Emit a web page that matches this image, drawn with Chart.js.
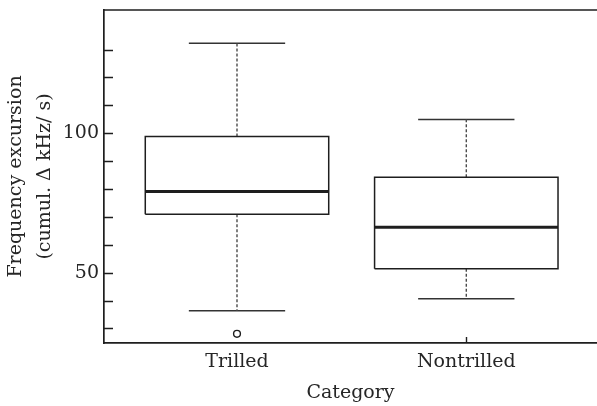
<!DOCTYPE html>
<html>
<head>
<meta charset="utf-8">
<script src="https://cdn.jsdelivr.net/npm/chart.js@4.4.1/dist/chart.umd.min.js"></script>
<style>
  html, body { margin: 0; padding: 0; background: #fff; }
  #wrap { width: 597px; height: 406px; }
</style>
</head>
<body>
<div id="wrap"><canvas id="chart"></canvas></div>
<script>
// --- data ---
const categories = ['Trilled', 'Nontrilled'];
const whiskerLow = [36.4, 40.7];
const q1 = [71.0, 51.4];
const median = [79.1, 66.3];
const q3 = [98.8, 84.2];
const whiskerHigh = [132.3, 104.9];
const outliers = [[28.1], []];
const yTickValues = [30, 40, 50, 60, 70, 80, 90, 100, 110, 120, 130];
const yLabelValues = [50, 100];
const xTickMarks = [2];

// --- look ---
const INK = '#1e1e1e';
const TEXT = '#262626';
const BOX_HALF = 0.4;
const CAP_HALF = 0.21;
const FONT = "'DejaVu Serif', serif";

const seg = (points, style) => Object.assign({
    data: points,
    showLine: true,
    fill: false,
    pointRadius: 0,
    borderColor: INK,
    borderWidth: 1.5
}, style);

const datasets = [];
categories.forEach((name, i) => {
    const c = i + 1;
    // box
    datasets.push(seg([
        { x: c - BOX_HALF, y: q1[i] }, { x: c + BOX_HALF, y: q1[i] },
        { x: c + BOX_HALF, y: q3[i] }, { x: c - BOX_HALF, y: q3[i] },
        { x: c - BOX_HALF, y: q1[i] }
    ], { borderJoinStyle: 'miter' }));
    // median
    datasets.push(seg([{ x: c - BOX_HALF, y: median[i] }, { x: c + BOX_HALF, y: median[i] }], { borderWidth: 3 }));
    // whiskers
    datasets.push(seg([{ x: c, y: q3[i] }, { x: c, y: whiskerHigh[i] }], { borderDash: [3, 2], borderColor: '#4a4a4a', borderWidth: 1.4 }));
    datasets.push(seg([{ x: c, y: q1[i] }, { x: c, y: whiskerLow[i] }], { borderDash: [3, 2], borderColor: '#4a4a4a', borderWidth: 1.4 }));
    // caps
    datasets.push(seg([{ x: c - CAP_HALF, y: whiskerHigh[i] }, { x: c + CAP_HALF, y: whiskerHigh[i] }], { borderColor: '#333' }));
    datasets.push(seg([{ x: c - CAP_HALF, y: whiskerLow[i] }, { x: c + CAP_HALF, y: whiskerLow[i] }], { borderColor: '#333' }));
    // outliers
    if (outliers[i].length) {
        datasets.push({
            data: outliers[i].map(v => ({ x: c, y: v })),
            showLine: false,
            pointRadius: 3.4,
            pointBorderWidth: 1.4,
            pointBorderColor: INK,
            pointBackgroundColor: '#fff'
        });
    }
});

// inward tick marks and the top frame line
const framePlugin = {
    id: 'frame',
    afterDraw(chart) {
        const { ctx, chartArea, scales } = chart;
        ctx.save();
        ctx.strokeStyle = INK;
        ctx.lineWidth = 1.4;
        ctx.beginPath();
        yTickValues.forEach(v => {
            const y = Math.round(scales.y.getPixelForValue(v)) + 0.5;
            ctx.moveTo(chartArea.left, y);
            ctx.lineTo(chartArea.left + 9, y);
        });
        xTickMarks.forEach(v => {
            const x = Math.round(scales.x.getPixelForValue(v)) + 0.5;
            ctx.moveTo(x, chartArea.bottom);
            ctx.lineTo(x, chartArea.bottom - 6);
        });
        ctx.stroke();
        ctx.lineWidth = 1.7;
        ctx.beginPath();
        ctx.moveTo(chartArea.left, chartArea.top);
        ctx.lineTo(chart.width, chartArea.top);
        ctx.stroke();
        ctx.restore();
    }
};

new Chart(document.getElementById('chart'), {
    type: 'scatter',
    data: { datasets },
    options: {
        responsive: true,
        maintainAspectRatio: false,
        animation: false,
        layout: { autoPadding: false, padding: { top: 10, right: 0, left: 0, bottom: 0 } },
        plugins: {
            legend: { display: false },
            tooltip: { enabled: false }
        },
        scales: {
            x: {
                type: 'linear',
                min: 0.42,
                max: 2.57,
                afterBuildTicks: (scale) => { scale.ticks = categories.map((n, i) => ({ value: i + 1 })); },
                afterFit: (scale) => {
                    scale.height = 63;
                    scale.paddingLeft = 0;
                    scale.paddingRight = 0;
                },
                grid: { display: false, drawTicks: false },
                border: { display: true, color: INK, width: 1.7 },
                ticks: {
                    padding: 8,
                    color: TEXT,
                    font: { family: FONT, size: 19 },
                    callback: (v) => categories[v - 1] || ''
                },
                title: {
                    display: true,
                    text: 'Category',
                    color: TEXT,
                    font: { family: FONT, size: 19 },
                    padding: { top: 0, bottom: 2 }
                }
            },
            y: {
                min: 24.8,
                max: 144.2,
                afterBuildTicks: (scale) => { scale.ticks = yTickValues.map(v => ({ value: v })); },
                afterFit: (scale) => {
                    scale.width = 104;
                    scale.paddingTop = 0;
                    scale.paddingBottom = 0;
                },
                grid: { display: false, drawTicks: false },
                border: { display: true, color: INK, width: 1.7 },
                ticks: {
                    padding: 5,
                    color: TEXT,
                    font: { family: FONT, size: 19 },
                    autoSkip: false,
                    callback: (v) => yLabelValues.includes(v) ? String(v) : ''
                },
                title: {
                    display: true,
                    text: ['Frequency excursion', '(cumul. \u0394 kHz/ s)'],
                    color: TEXT,
                    font: { family: FONT, size: 19, lineHeight: 1.5 },
                    padding: { top: 2, bottom: 0 }
                }
            }
        }
    },
    plugins: [framePlugin]
});
</script>
</body>
</html>
